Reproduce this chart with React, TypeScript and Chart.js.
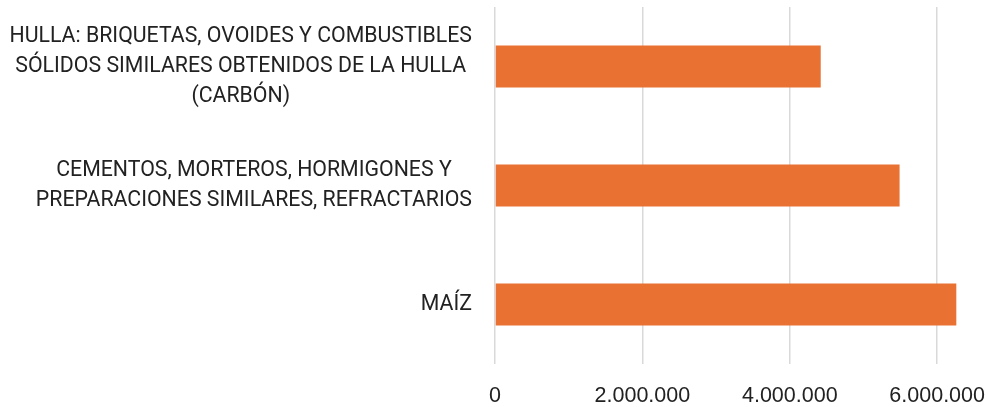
import React, { useEffect, useRef } from "react";
import { Chart, registerables } from "chart.js";

Chart.register(...registerables);

const categories: string[][] = [
  ["HULLA: BRIQUETAS, OVOIDES Y COMBUSTIBLES", "SÓLIDOS SIMILARES OBTENIDOS DE LA HULLA", "(CARBÓN)"],
  ["CEMENTOS, MORTEROS, HORMIGONES Y", "PREPARACIONES SIMILARES, REFRACTARIOS"],
  ["MAÍZ"],
];
const values: number[] = [4420000, 5490000, 6260000];
const tickValues: number[] = [0, 2000000, 4000000, 6000000];

const LABEL_FONT = '21.3px "Roboto"';
const LABEL_LINE = 30;
const TEXT_COLOR = "#222222";

function fmt(v: number): string {
  return String(Math.round(v)).replace(/\B(?=(\d{3})+(?!\d))/g, ".");
}

const labelPlugin = {
  id: "centeredCategoryLabels",
  afterDraw(chart: any) {
    const scale = chart.scales.y;
    const ctx = chart.ctx;
    ctx.save();
    ctx.font = LABEL_FONT;
    ctx.fillStyle = TEXT_COLOR;
    ctx.textAlign = "center";
    ctx.textBaseline = "middle";
    const right = scale.right - 23;
    categories.forEach((lines, i) => {
      const y = scale.getPixelForTick(i);
      const maxW = Math.max(...lines.map((l) => ctx.measureText(l).width));
      const cx = right - maxW / 2;
      lines.forEach((l, j) => {
        ctx.fillText(l, cx, y + (j - (lines.length - 1) / 2) * LABEL_LINE);
      });
    });
    ctx.restore();
  },
};

export default function App() {
  const ref = useRef<HTMLCanvasElement | null>(null);
  useEffect(() => {
    if (!ref.current) return;
    const chart = new Chart(ref.current, {
      type: "bar",
      data: {
        labels: categories.map((c) => c.join(" ")),
        datasets: [
          {
            data: values,
            backgroundColor: "#E97132",
            borderWidth: 0,
            categoryPercentage: 1,
            barPercentage: 0.353,
          },
        ],
      },
      options: {
        indexAxis: "y",
        animation: false,
        responsive: false,
        maintainAspectRatio: false,
        layout: { padding: { top: 7, right: 14, left: 0, bottom: 0 } },
        plugins: { legend: { display: false }, tooltip: { enabled: false } },
        scales: {
          x: {
            min: 0,
            max: 6500000,
            afterBuildTicks(scale: any) {
              scale.ticks = tickValues.map((v) => ({ value: v }));
            },
            afterFit(scale: any) {
              scale.height = 43;
              scale.paddingLeft = 0;
              scale.paddingRight = 0;
            },
            ticks: {
              includeBounds: false,
              stepSize: 2000000,
              padding: 19,
              color: TEXT_COLOR,
              font: { family: '"Liberation Sans"', size: 21.5 },
              callback: (v: any) => fmt(Number(v)),
            },
            grid: { color: "#d9d9d9", lineWidth: 1.5, drawTicks: false },
            border: { display: false },
          },
          y: {
            ticks: { display: false },
            afterFit(scale: any) {
              scale.width = 495;
            },
            grid: { display: false, drawTicks: false },
            border: { display: false },
          },
        },
      },
      plugins: [labelPlugin],
    });
    return () => chart.destroy();
  }, []);
  return (
    <div style={{ position: "absolute", left: 0, top: 0, width: 988, height: 407, background: "#fff" }}>
      <canvas ref={ref} width={988} height={407} style={{ width: 988, height: 407 }} />
    </div>
  );
}
